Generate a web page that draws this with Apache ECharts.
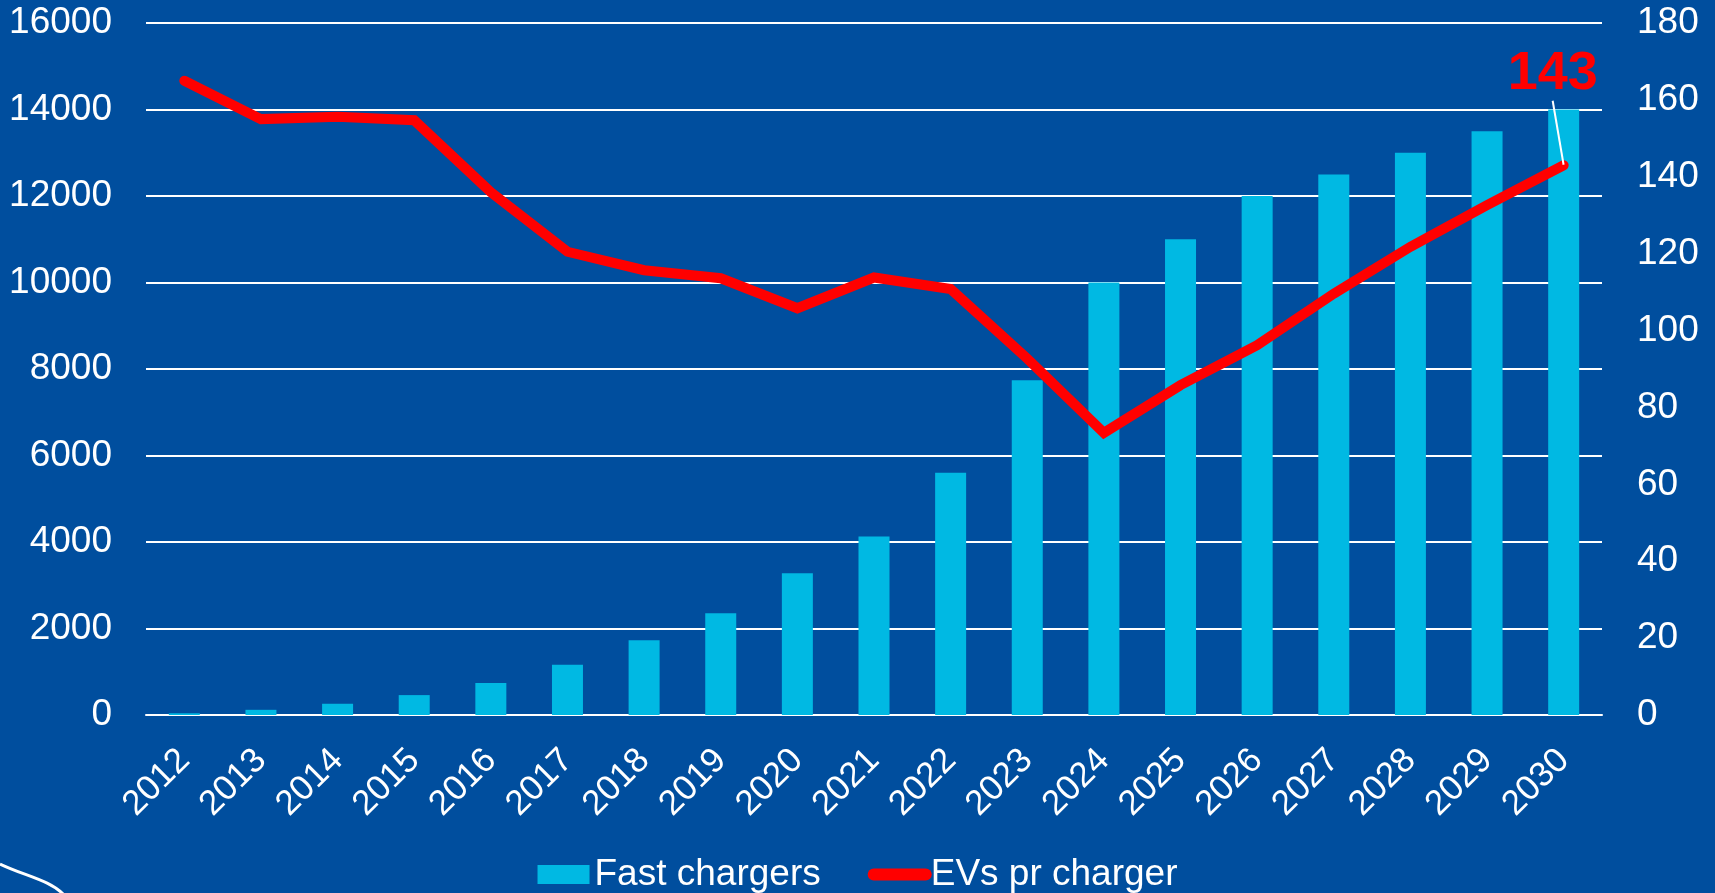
<!DOCTYPE html>
<html>
<head>
<meta charset="utf-8">
<title>Fast chargers</title>
<script src="https://cdn.jsdelivr.net/npm/echarts@6/dist/echarts.min.js"></script>
<style>
  html, body { margin: 0; padding: 0; background: #004e9e; }
  #chart { width: 1715px; height: 893px; }
</style>
</head>
<body>
<div id="chart"></div>
<script>
// data
var years = ['2012', '2013', '2014', '2015', '2016', '2017', '2018', '2019', '2020', '2021',
  '2022', '2023', '2024', '2025', '2026', '2027', '2028', '2029', '2030'];
var fastChargers = [40, 120, 260, 460, 740, 1160, 1730, 2350, 3280, 4130,
  5600, 7740, 10000, 11000, 12000, 12500, 13000, 13500, 14000];
var evsPerCharger = [165, 155, 155.6, 154.7, 136, 120.5, 115.7, 113.6, 105.8, 113.8,
  110.8, 92.7, 73.4, 85.8, 96.2, 109.6, 121.8, 132.6, 143];
var leftTicks = { min: 0, max: 16000, interval: 2000 };
var rightTicks = { min: 0, max: 180, interval: 20 };

var font = "'Liberation Sans', Arial, sans-serif";
var white = '#ffffff';
var barColor = '#00b9e3';
var lineColor = '#ff0000';

// only the last point gets the big label
var lineData = evsPerCharger.map(function (v, i) {
  if (i === evsPerCharger.length - 1) {
    return {
      value: v,
      label: {
        show: true,
        position: 'top',
        color: lineColor,
        fontSize: 54,
        fontWeight: 'bold',
        fontFamily: font,
        padding: [0, 0, 15, 0]
      },
      labelLine: {
        show: true,
        lineStyle: { color: white, width: 2 }
      }
    };
  }
  return v;
});

var myChart = echarts.init(document.getElementById('chart'));
var option = {
  backgroundColor: '#004e9e',
  animation: false,
  textStyle: { fontFamily: font },
  grid: {
    left: 146,
    right: 113,
    top: 23,
    bottom: 178,
    outerBoundsMode: 'none'
  },
  legend: {
    left: 'center',
    top: 851,
    itemWidth: 52,
    itemHeight: 19,
    itemGap: 47,
    textStyle: { color: white, fontSize: 37, fontFamily: font },
    data: [
      { name: 'Fast chargers', icon: 'rect' },
      {
        name: 'EVs pr charger',
        itemStyle: { color: 'rgba(0,0,0,0)', borderWidth: 0 },
        lineStyle: { color: lineColor, width: 12, cap: 'round' }
      }
    ]
  },
  xAxis: {
    type: 'category',
    data: years,
    axisLine: { show: true, lineStyle: { color: white, width: 2 } },
    axisTick: { show: false },
    axisLabel: {
      color: white,
      fontSize: 35,
      fontFamily: font,
      rotate: 45,
      margin: 40,
      interval: 0
    }
  },
  yAxis: [
    {
      type: 'value',
      min: leftTicks.min,
      max: leftTicks.max,
      interval: leftTicks.interval,
      axisLine: { show: false },
      axisTick: { show: false },
      splitLine: { show: true, lineStyle: { color: white, width: 2 } },
      axisLabel: {
        color: white,
        fontSize: 37,
        fontFamily: font,
        margin: 34,
        formatter: function (v) { return String(v); }
      }
    },
    {
      type: 'value',
      min: rightTicks.min,
      max: rightTicks.max,
      interval: rightTicks.interval,
      axisLine: { show: false },
      axisTick: { show: false },
      splitLine: { show: false },
      axisLabel: {
        color: white,
        fontSize: 37,
        fontFamily: font,
        margin: 35,
        formatter: function (v) { return String(v); }
      }
    }
  ],
  series: [
    {
      name: 'Fast chargers',
      type: 'bar',
      data: fastChargers,
      barWidth: 31,
      itemStyle: { color: barColor },
      emphasis: { disabled: true }
    },
    {
      name: 'EVs pr charger',
      type: 'line',
      yAxisIndex: 1,
      data: lineData,
      symbol: 'circle',
      symbolSize: 1,
      showSymbol: true,
      lineStyle: { color: lineColor, width: 10, cap: 'round', join: 'miter' },
      itemStyle: { color: lineColor },
      labelLayout: { dx: -11, dy: -44 },
      emphasis: { disabled: true },
      z: 3
    }
  ],
  // white scribble in the lower left corner
  graphic: [
    {
      type: 'bezierCurve',
      shape: { x1: 0, y1: 864, cpx1: 25, cpy1: 876, cpx2: 50, cpy2: 880, x2: 64, y2: 895 },
      style: { stroke: white, lineWidth: 3, fill: null }
    }
  ]
};

option && myChart.setOption(option);
</script>
</body>
</html>
